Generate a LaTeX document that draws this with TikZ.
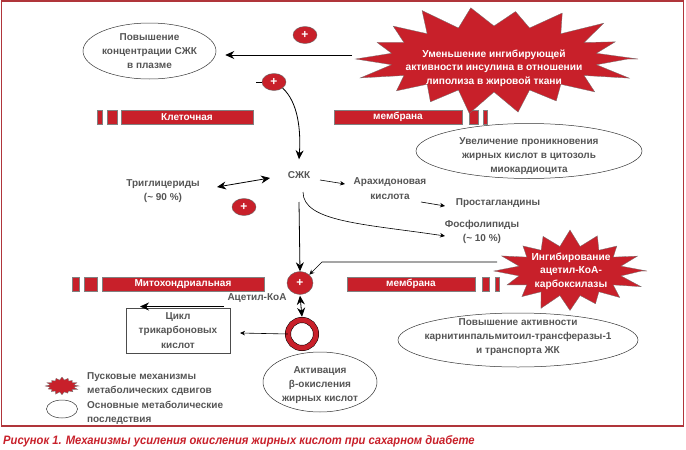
\documentclass[tikz,border=0pt]{standalone}
\usepackage{fontspec}
\setmainfont{Liberation Sans}
\newfontfamily\capfont[FakeStretch=0.92]{Liberation Sans}
\usetikzlibrary{arrows.meta,shapes.geometric}
\definecolor{mred}{HTML}{C8202A}
\definecolor{tgrey}{HTML}{555555}
\definecolor{framec}{HTML}{B0353A}
\newcommand{\burst}[7]{% cx cy rxo ryo rxi ryi n
  \fill[mred,draw=black!55,line width=.3pt] ({#1+#3},{#2})
    \foreach \k in {0,...,\numexpr#7-1\relax} {
      -- ({#1+#3*(0.93+0.07*sin(\k*97))*cos(360*\k/#7)},{#2+#4*(0.93+0.07*sin(\k*97))*sin(360*\k/#7)})
      -- ({#1+#5*cos(360*(\k+0.5)/#7)},{#2+#6*sin(360*(\k+0.5)/#7)})
    } -- cycle;}
\begin{document}
\begin{tikzpicture}[x=1pt,y=-1pt,
  txt/.style={font=\bfseries\fontsize{10}{14.3}\selectfont, text=tgrey, align=center, inner sep=1pt},
  wtxt/.style={font=\bfseries\fontsize{10.2}{13.6}\selectfont, text=white, align=center, inner sep=1pt},
  oval/.style={ellipse, draw=black!80, line width=.5pt, inner sep=0pt},
  bar/.style={rectangle, fill=mred, draw=black!50, line width=.3pt, inner sep=0pt, minimum height=14pt, text=white, font=\bfseries\fontsize{10}{10}\selectfont},
  plus/.style={ellipse, fill=mred, draw=black!60, line width=.4pt, inner sep=0pt, minimum width=24pt, minimum height=17pt, text=white, font=\bfseries\fontsize{12}{12}\selectfont},
  arr/.style={-{Stealth[length=9pt,width=8pt]}, line width=.8pt},
  darr/.style={{Stealth[length=9pt,width=8pt]}-{Stealth[length=9pt,width=8pt]}, line width=.8pt},
  tarr/.style={-{Stealth[length=5pt,width=4.5pt]}, line width=.6pt}
]
\useasboundingbox (0,0) rectangle (686,450);
\draw[framec, line width=1.2pt] (1.5,1) rectangle (683.5,426);

% membrane row 1
\node[bar, minimum width=5pt] (m1a) at (99.5,117) {};
\node[bar, minimum width=10pt] (m1b) at (112,117) {};
\node[bar, minimum width=132pt] (m1) at (187,117) {Клеточная};
\node[bar, minimum width=128pt] (m2) at (398,117) {мембрана};
\node[bar, minimum width=9pt] (m2a) at (473.5,117) {};
\node[bar, minimum width=4pt] (m2b) at (485,117) {};
% membrane row 2
\node[bar, minimum width=7pt] (n1a) at (75.5,284) {};
\node[bar, minimum width=13pt] (n1b) at (90.5,284) {};
\node[bar, minimum width=162pt] (n1) at (183,284) {Митохондриальная};
\node[bar, minimum width=128pt] (n2) at (411,284) {мембрана};
\node[bar, minimum width=7pt] (n2a) at (485.5,284) {};
\node[bar, minimum width=4pt] (n2b) at (497,284) {};

% starbursts
\burst{494}{59}{144}{56}{104}{33}{18}
\node[wtxt] (sb1) at (494,68) {Уменьшение ингибирующей\\активности инсулина в отношении\\липолиза в жировой ткани};
\coordinate (sb1L) at (352,55);
\burst{570}{271}{77}{41}{52}{25}{16}
\node[wtxt] (sb2) at (571,271) {Ингибирование\\ацетил-КоА-\\карбоксилазы};
\coordinate (sb2L) at (497,262);

% ellipses
\node[oval, minimum width=133pt, minimum height=56pt] (e1) at (149.5,51) {};
\node[txt] at (e1) {Повышение\\концентрации СЖК\\в плазме};
\node[oval, minimum width=226pt, minimum height=55pt] (e2) at (529,151) {};
\node[txt] at ([yshift=-5pt]e2.center) {Увеличение проникновения\\жирных кислот в цитозоль\\миокардиоцита};
\node[oval, minimum width=240pt, minimum height=54pt] (e4) at (518,340) {};
\node[txt] at ([yshift=3pt]e4.center) {Повышение активности\\карнитинпальмитоил-трансферазы-1\\и транспорта ЖК};
\node[oval, minimum width=114pt, minimum height=60pt] (e3) at (320,382) {};
\node[txt] at ([yshift=-3pt]e3.center) {Активация\\β-окисления\\жирных кислот};

% box
\node[rectangle, draw=black!70, line width=.5pt, minimum width=104pt, minimum height=45pt] (box) at (178,330.5) {};
\node[txt] at (box) {Цикл\\трикарбоновых\\кислот};

% pluses
\node[plus] (p1) at (305,35) {+};
\node[plus] (p2) at (274,82) {+};
\node[plus] (p3) at (244,207) {+};
\node[plus, minimum width=26pt, minimum height=23pt] (p4) at (300,283) {+};

% ring
\node[circle, draw=black, line width=.5pt, double=mred, double distance=5pt, minimum size=28pt, inner sep=0pt] (ring) at (302,334) {};

% text labels
\node[txt] (szk) at (299,175) {СЖК};
\node[txt] (trig) at (163,191) {Триглицериды\\(\textasciitilde{} 90 \%)};
\node[txt] (arach) at (390,188.5) {Арахидоновая\\кислота};
\node[txt] (prost) at (498,203) {Простагландины};
\node[txt] (phos) at (482,232) {Фосфолипиды\\(\textasciitilde{} 10 \%)};
\node[txt] (acet) at (257,298) {Ацетил-КоА};

% connectors
\draw[arr] (sb1L) -- ([xshift=9pt,yshift=-4pt]e1.east);
\draw[line width=.5pt] (p2.west) -- ++(-6,0);
\draw[arr] (p2.south east) .. controls (298,102) and (301,130) .. ([yshift=11pt]szk.north);
\coordinate (trigR) at (217,187);
\coordinate (szkL) at (270,178);
\draw[darr] (trigR) -- (szkL);
\coordinate (szkR) at (320,180);
\coordinate (arL) at (345,184);
\draw[tarr] (szkR) -- (arL);
\coordinate (arR) at (421,202);
\coordinate (prL) at (445,206);
\draw[tarr] (arR) -- (prL);
\coordinate (szkB) at (303,192);
\coordinate (phL) at (445,236);
\draw[tarr] (szkB) .. controls (303,222) and (365,224) .. (phL);
\coordinate (szkD) at (299,202);
\draw[arr] (szkD) -- (p4.north);
\draw[tarr] (sb2L) -- (322,262) -- (p4.north east);
\draw[darr] ([yshift=-1pt]p4.south) -- ([yshift=3pt]ring.north);
\coordinate (boxR) at (240,333);
\draw[tarr] (ring.west) -- (boxR);
\coordinate (acL) at (224,306.5);
\coordinate (boxTL) at (140,306.5);
\draw[arr] (acL) -- (boxTL);

% legend
\burst{62}{386}{17}{9}{12}{6}{16}
\node[txt, align=left, anchor=west] (lg1) at (86,384) {Пусковые механизмы\\метаболических сдвигов};
\node[oval, minimum width=31pt, minimum height=18pt] (lge) at (62,409) {};
\node[txt, align=left, anchor=west] (lg2) at (86,413) {Основные метаболические\\последствия};

% caption
\node[anchor=west, inner sep=0pt, text=mred, font=\capfont\bfseries\itshape\fontsize{12.2}{14}\selectfont] (cap) at (3,441) {Рисунок 1. Механизмы усиления окисления жирных кислот при сахарном диабете};
\end{tikzpicture}
\end{document}
